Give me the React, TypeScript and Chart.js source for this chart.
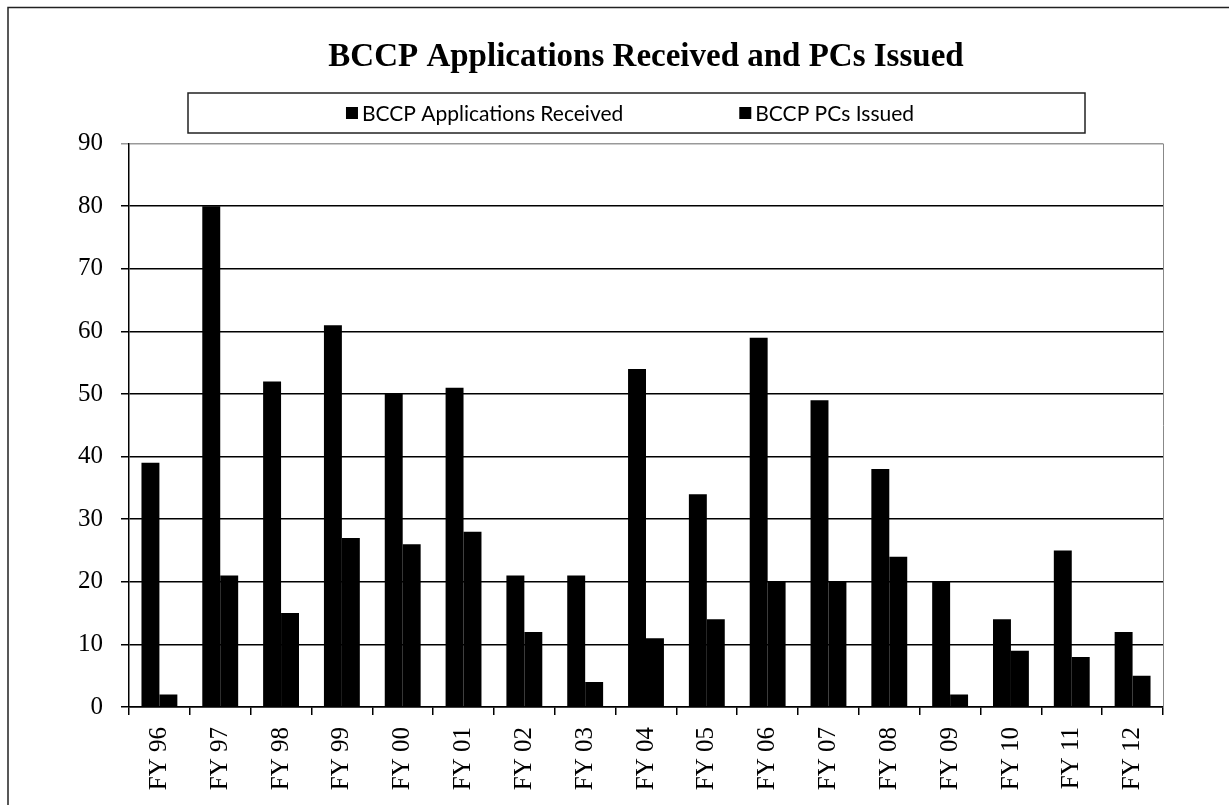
import React, { useEffect, useRef } from "react";
import { Chart, registerables } from "chart.js";

Chart.register(...registerables);

const TITLE = "BCCP Applications Received and PCs Issued";
const CATEGORIES = ["FY 96", "FY 97", "FY 98", "FY 99", "FY 00", "FY 01", "FY 02", "FY 03", "FY 04", "FY 05", "FY 06", "FY 07", "FY 08", "FY 09", "FY 10", "FY 11", "FY 12"];
const SERIES_NAMES = ["BCCP Applications Received", "BCCP PCs Issued"];
const APPLICATIONS = [39, 80, 52, 61, 50, 51, 21, 21, 54, 34, 59, 49, 38, 20, 14, 25, 12];
const PCS_ISSUED = [2, 21, 15, 27, 26, 28, 12, 4, 11, 14, 20, 20, 24, 2, 9, 8, 5];
const Y_MIN = 0;
const Y_MAX = 90;
const Y_STEP = 10;

const framePlugin = {
  id: "frameAndLegend",
  afterDraw(chart: any) {
    const ctx = chart.ctx;
    const ca = chart.chartArea;
    ctx.save();
    // outer frame (top and left)
    ctx.strokeStyle = "#222";
    ctx.lineWidth = 1.5;
    ctx.beginPath();
    ctx.moveTo(8, 805);
    ctx.lineTo(8, 7.5);
    ctx.lineTo(1229, 7.5);
    ctx.stroke();
    // plot right border
    ctx.strokeStyle = "#888";
    ctx.lineWidth = 1;
    ctx.beginPath();
    ctx.moveTo(ca.right + 0.5, ca.top);
    ctx.lineTo(ca.right + 0.5, ca.bottom);
    ctx.stroke();
    // legend box
    ctx.strokeStyle = "#222";
    ctx.lineWidth = 1.5;
    ctx.strokeRect(188, 93, 897, 40);
    ctx.font = "21px Lato";
    ctx.textBaseline = "middle";
    ctx.textAlign = "left";
    const labels = chart.data.datasets.map((d: any) => d.label);
    const widths = labels.map((t: string) => ctx.measureText(t).width);
    const box = 12;
    const gapText = 4;
    const gapItems = 116;
    let total = 0;
    widths.forEach((w: number, i: number) => {
      total += box + gapText + w + (i > 0 ? gapItems : 0);
    });
    let x = 630 - total / 2;
    const cy = 113;
    labels.forEach((t: string, i: number) => {
      ctx.fillStyle = chart.data.datasets[i].backgroundColor;
      ctx.fillRect(x, cy - box / 2, box, box);
      ctx.fillStyle = "#000";
      ctx.fillText(t, x + box + gapText, cy + 1);
      x += box + gapText + widths[i] + gapItems;
    });
    ctx.restore();
  },
};

export default function App() {
  const ref = useRef<HTMLCanvasElement | null>(null);
  useEffect(() => {
    document.body.style.margin = "0";
    const canvas = ref.current;
    if (!canvas) return;
    const chart = new Chart(canvas, {
      type: "bar",
      data: {
        labels: CATEGORIES,
        datasets: [
          { label: SERIES_NAMES[0], data: APPLICATIONS, backgroundColor: "#000", borderWidth: 0 },
          { label: SERIES_NAMES[1], data: PCS_ISSUED, backgroundColor: "#000", borderWidth: 0 },
        ],
      },
      options: {
        animation: false,
        responsive: false,
        maintainAspectRatio: false,
        layout: { padding: { left: 0, right: 66, top: 0, bottom: 0 } },
        datasets: { bar: { categoryPercentage: 0.59, barPercentage: 1.0 } },
        plugins: {
          legend: { display: false },
          tooltip: { enabled: false },
          title: {
            display: true,
            fullSize: false,
            text: TITLE,
            color: "#000",
            font: { family: "Liberation Serif", size: 33, weight: "bold" },
            padding: { top: 38, bottom: 66 },
          },
        },
        scales: {
          x: {
            afterFit: (s: any) => { s.height = 98; },
            grid: { drawOnChartArea: false, offset: true, tickLength: 8, color: "#000", lineWidth: 1.5 },
            border: { display: true, color: "#000", width: 1.5 },
            ticks: {
              color: "#000",
              font: { family: "Liberation Serif", size: 25 },
              maxRotation: 90,
              minRotation: 90,
              autoSkip: false,
              padding: 12,
            },
          },
          y: {
            min: Y_MIN,
            max: Y_MAX,
            afterFit: (s: any) => { s.width = 129; },
            grid: {
              color: (c: any) => (c.tick && c.tick.value === Y_MAX ? "#999" : "#000"),
              lineWidth: 1.5,
              tickLength: 8,
            },
            border: { display: true, color: "#000", width: 1.5 },
            ticks: {
              stepSize: Y_STEP,
              color: "#000",
              font: { family: "Liberation Serif", size: 25 },
              padding: 18,
            },
          },
        },
      },
      plugins: [framePlugin],
    });
    return () => chart.destroy();
  }, []);
  return (
    <div style={{ width: 1229, height: 805 }}>
      <canvas ref={ref} width={1229} height={805} style={{ display: "block", width: 1229, height: 805 }} />
    </div>
  );
}
